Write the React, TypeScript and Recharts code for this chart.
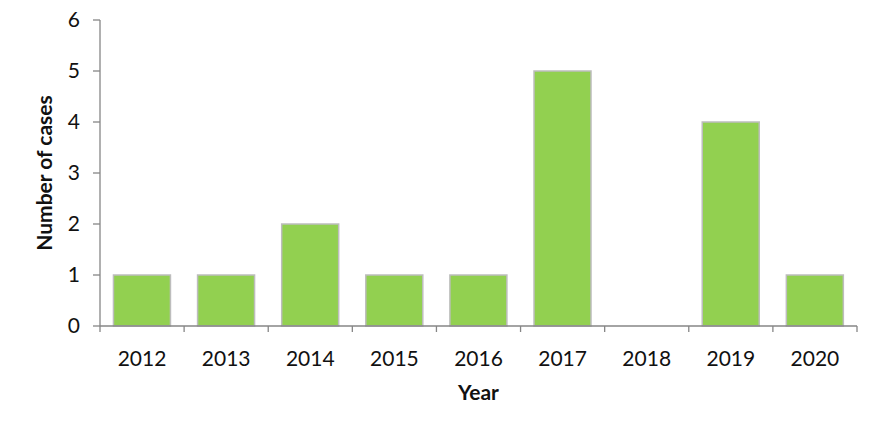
import { BarChart, Bar, XAxis, YAxis, Label } from 'recharts';

// 연도별 사례 수
const years = ['2012', '2013', '2014', '2015', '2016', '2017', '2018', '2019', '2020'];
const cases = [1, 1, 2, 1, 1, 5, 0, 4, 1];
const yTicks = [0, 1, 2, 3, 4, 5, 6];

const data = years.map((year, i) => ({ year, cases: cases[i] }));

const AXIS = '#868686';
const FONT = 'Lato, "Open Sans", sans-serif';

// x축 눈금: 범주 경계에 눈금선, 가운데에 연도
function YearTick(props: any) {
  const { x, y, payload, index } = props;
  const half = payload.offset ?? 42;
  const last = index === years.length - 1;
  return (
    <g>
      <line x1={x - half} x2={x - half} y1={y} y2={y + 6} stroke={AXIS} strokeWidth={1.3} />
      {last && <line x1={x + half} x2={x + half} y1={y} y2={y + 6} stroke={AXIS} strokeWidth={1.3} />}
      <text x={x} y={y + 40} textAnchor="middle" fontSize={21} fontFamily={FONT} fill="#111">
        {payload.value}
      </text>
    </g>
  );
}

function YearLabel(props: any) {
  const { viewBox } = props;
  return (
    <text
      x={viewBox.x + viewBox.width / 2}
      y={viewBox.y + 74}
      textAnchor="middle"
      fontSize={21}
      fontWeight="bold"
      fontFamily={FONT}
      fill="#111"
    >
      Year
    </text>
  );
}

function CasesLabel(props: any) {
  const { viewBox } = props;
  const cx = 43;
  const cy = viewBox.y + viewBox.height / 2;
  return (
    <text
      x={cx}
      y={cy}
      transform={`rotate(-90, ${cx}, ${cy})`}
      textAnchor="middle"
      dominantBaseline="central"
      fontSize={21}
      fontWeight="bold"
      fontFamily={FONT}
      fill="#111"
    >
      Number of cases
    </text>
  );
}

export default function App() {
  return (
    <div style={{ position: 'absolute', left: 0, top: 0, background: '#fff' }}>
      <BarChart
        width={888}
        height={427}
        data={data}
        margin={{ top: 20, right: 31, left: 0, bottom: 21 }}
        barCategoryGap="16%"
      >
        <XAxis
          dataKey="year"
          height={80}
          axisLine={{ stroke: AXIS, strokeWidth: 1.3 }}
          tickLine={false}
          tickSize={0}
          tickMargin={0}
          interval={0}
          tick={<YearTick />}
        >
          <Label content={<YearLabel />} />
        </XAxis>
        <YAxis
          width={100}
          domain={[0, 6]}
          ticks={yTicks}
          interval={0}
          axisLine={{ stroke: AXIS, strokeWidth: 1.3 }}
          tickLine={{ stroke: AXIS, strokeWidth: 1.3 }}
          tickSize={7}
          tickMargin={13}
          tick={{ fontSize: 21, fontFamily: FONT, fill: '#111' }}
        >
          <Label content={<CasesLabel />} />
        </YAxis>
        <Bar dataKey="cases" fill="#92D050" stroke="#BDBDBD" strokeWidth={1.5} isAnimationActive={false} />
      </BarChart>
    </div>
  );
}
